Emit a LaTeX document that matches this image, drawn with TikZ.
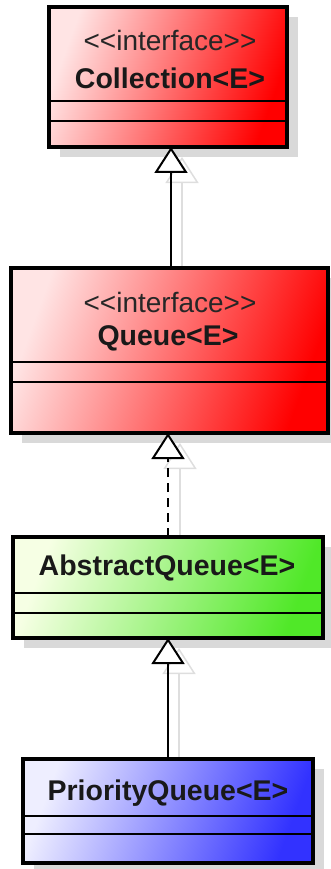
\documentclass[tikz,border=0pt]{standalone}
\usepackage{fontspec}
\setmainfont{Liberation Sans}[Ligatures=TeXOff]
\usetikzlibrary{arrows.meta}
\definecolor{redR}{RGB}{255,0,0}
\definecolor{redL}{RGB}{255,228,228}
\definecolor{greenR}{RGB}{80,232,40}
\definecolor{greenL}{RGB}{246,255,228}
\definecolor{blueR}{RGB}{50,50,255}
\definecolor{blueL}{RGB}{238,238,255}
\begin{document}
\begin{tikzpicture}[x=1pt,y=-1pt,
  umlbox/.style={draw=black, line width=3.5pt, rectangle, inner sep=0pt},
  shadowbox/.style={fill=black!15, draw=none, rectangle, inner sep=0pt},
  redfill/.style={left color=redL, right color=redR, shading angle=70},
  greenfill/.style={left color=greenL, right color=greenR, shading angle=70},
  bluefill/.style={left color=blueL, right color=blueR, shading angle=70},
  stereo/.style={font=\fontsize{28}{30}\selectfont, text=black!85},
  cname/.style={font=\fontsize{28.5}{30}\selectfont\bfseries, text=black!90},
  divider/.style={line width=1.4pt},
  gen/.style={line width=2pt, -{Triangle[length=26pt, width=33pt, fill=white, line width=2pt]}},
  ghost/.style={line width=1.5pt, draw=black!13, -{Triangle[length=26pt, width=33pt, fill=none, line width=1.5pt]}}
]
\useasboundingbox (0,0) rectangle (331,869);
% shadows
\node[shadowbox, minimum width=238pt, minimum height=140pt] (s1) at (179,87) {};
\node[shadowbox, minimum width=317pt, minimum height=165pt] (s2) at (180.5,360.5) {};
\node[shadowbox, minimum width=310pt, minimum height=101pt] (s3) at (179,597.5) {};
\node[shadowbox, minimum width=290pt, minimum height=104pt] (s4) at (179,821) {};
% ghost connectors
\coordinate (g1a) at (182,268);
\coordinate (g1b) at (182,157);
\coordinate (g2a) at (180,537);
\coordinate (g2b) at (180,443);
\coordinate (g3a) at (179,759);
\coordinate (g3b) at (179,648);
\draw[ghost] (g1a) -- (g1b);
\draw[ghost] (g2a) -- (g2b);
\draw[ghost] (g3a) -- (g3b);
% boxes
\node[umlbox, redfill, minimum width=238pt, minimum height=140pt] (coll) at (168,77) {};
\node[umlbox, redfill, minimum width=317pt, minimum height=165pt] (queue) at (169.5,350.5) {};
\node[umlbox, greenfill, minimum width=310pt, minimum height=101pt] (aq) at (168,587.5) {};
\node[umlbox, bluefill, minimum width=290pt, minimum height=104pt] (pq) at (168,811) {};
% dividers
\draw[divider] (coll.west |- 0,101) -- (coll.east |- 0,101);
\draw[divider] (coll.west |- 0,121) -- (coll.east |- 0,121);
\draw[divider] (queue.west |- 0,362) -- (queue.east |- 0,362);
\draw[divider] (queue.west |- 0,382) -- (queue.east |- 0,382);
\draw[divider] (aq.west |- 0,593) -- (aq.east |- 0,593);
\draw[divider] (aq.west |- 0,613) -- (aq.east |- 0,613);
\draw[divider] (pq.west |- 0,816) -- (pq.east |- 0,816);
\draw[divider] (pq.west |- 0,834) -- (pq.east |- 0,834);
% texts
\node[stereo] (t1s) at (170,40) {<<interface>>};
\node[cname] (t1n) at (170,78) {Collection<E>};
\node[stereo] (t2s) at (170,302) {<<interface>>};
\node[cname] (t2n) at (168,338) {Queue<E>};
\node[cname] (t3n) at (167,568) {AbstractQueue<E>};
\node[cname] (t4n) at (168,793) {PriorityQueue<E>};
% connectors
\coordinate (c1a) at (171,268);
\coordinate (c1b) at (171,147);
\coordinate (c2a) at (168,537);
\coordinate (c2b) at (168,433);
\coordinate (c3a) at (168,759);
\coordinate (c3b) at (168,638);
\draw[gen] (c1a) -- (c1b);
\draw[gen, dash pattern=on 9pt off 6pt] (c2a) -- (c2b);
\draw[gen] (c3a) -- (c3b);
\end{tikzpicture}
\end{document}
